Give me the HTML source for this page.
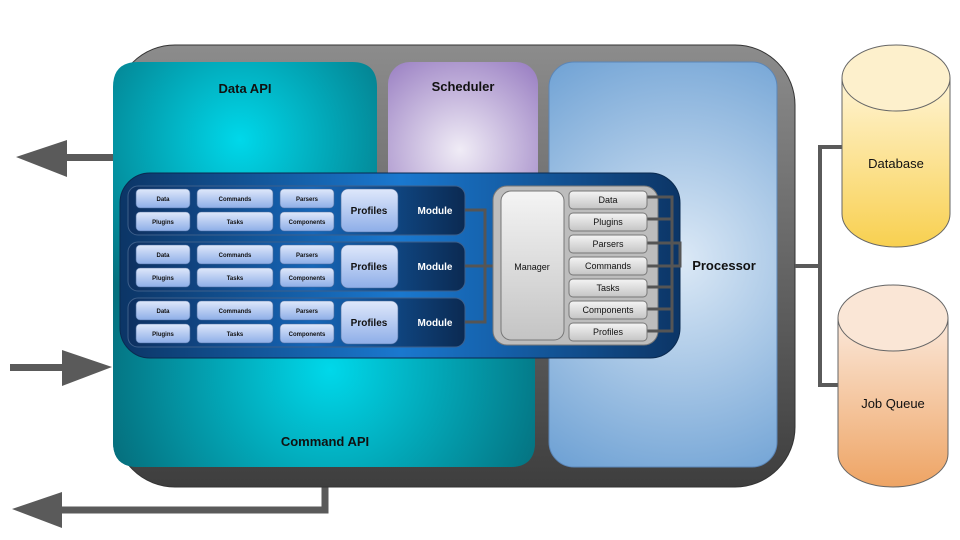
<!DOCTYPE html>
<html><head><meta charset="utf-8"><style>
html,body{margin:0;padding:0;background:#fff;width:960px;height:540px;overflow:hidden}
text{font-family:"Liberation Sans",Arial,sans-serif}
</style></head><body>
<svg width="960" height="540" viewBox="0 0 960 540" xmlns="http://www.w3.org/2000/svg">
<defs>
<linearGradient id="gOuter" x1="0" y1="0" x2="0" y2="1"><stop offset="0" stop-color="#8c8c8c"/><stop offset="1" stop-color="#3e3e3e"/></linearGradient>
<radialGradient id="gTealTop" cx="240" cy="140" r="190" gradientUnits="userSpaceOnUse"><stop offset="0" stop-color="#00d8ea"/><stop offset="1" stop-color="#05707e"/></radialGradient>
<radialGradient id="gTealBot" cx="330" cy="370" r="230" gradientUnits="userSpaceOnUse"><stop offset="0" stop-color="#00d8ea"/><stop offset="1" stop-color="#05707e"/></radialGradient>
<radialGradient id="gPurple" cx="460" cy="150" r="110" gradientUnits="userSpaceOnUse"><stop offset="0" stop-color="#f0ecf6"/><stop offset="1" stop-color="#9c82c4"/></radialGradient>
<radialGradient id="gProc" cx="680" cy="260" r="240" gradientUnits="userSpaceOnUse"><stop offset="0" stop-color="#dce9f6"/><stop offset="1" stop-color="#6ea1d4"/></radialGradient>
<linearGradient id="gMod" x1="0" y1="0" x2="1" y2="0"><stop offset="0" stop-color="#0c3566"/><stop offset="0.5" stop-color="#1a78cf"/><stop offset="1" stop-color="#0c3566"/></linearGradient>
<linearGradient id="gRow" x1="0" y1="0" x2="1" y2="0"><stop offset="0" stop-color="#0d3060"/><stop offset="0.55" stop-color="#1566b8"/><stop offset="1" stop-color="#0b2a52"/></linearGradient>
<linearGradient id="gBox" x1="0" y1="0" x2="0" y2="1"><stop offset="0" stop-color="#dfe8fb"/><stop offset="1" stop-color="#8eaee8"/></linearGradient>
<linearGradient id="gGray" x1="0" y1="0" x2="0" y2="1"><stop offset="0" stop-color="#f4f4f4"/><stop offset="1" stop-color="#c4c4c4"/></linearGradient>
<linearGradient id="gDb" x1="0" y1="0" x2="0" y2="1"><stop offset="0" stop-color="#fff4d4"/><stop offset="1" stop-color="#f8d050"/></linearGradient>
<linearGradient id="gJq" x1="0" y1="0" x2="0" y2="1"><stop offset="0" stop-color="#fbe8da"/><stop offset="1" stop-color="#eea464"/></linearGradient>
</defs>

<!-- arrows -->
<g fill="#5a5a5a" stroke="none">
<rect x="60" y="154" width="56" height="7"/><polygon points="16,157 67,140 67,177"/>
<rect x="10" y="364" width="56" height="7"/><polygon points="112,367 62,350 62,386"/>
<polygon points="12,509 62,492 62,528"/>
</g>
<path d="M325 460 L325 510 L60 510" stroke="#5a5a5a" stroke-width="7" fill="none"/>

<!-- outer -->
<rect x="115" y="45" width="680" height="442" rx="60" fill="url(#gOuter)" stroke="#333"/>

<!-- teal -->
<path d="M138 62 H352 Q377 62 377 87 V300 H535 V442 Q535 467 510 467 H138 Q113 467 113 442 V87 Q113 62 138 62 Z" fill="url(#gTealTop)"/>
<path d="M113 300 H535 V442 Q535 467 510 467 H138 Q113 467 113 442 Z" fill="url(#gTealBot)"/>
<text x="245" y="93" font-size="13" font-weight="bold" text-anchor="middle" fill="#111">Data API</text>
<text x="325" y="446" font-size="13" font-weight="bold" text-anchor="middle" fill="#111">Command API</text>

<!-- scheduler -->
<rect x="388" y="62" width="150" height="180" rx="22" fill="url(#gPurple)"/>
<text x="463" y="91" font-size="13" font-weight="bold" text-anchor="middle" fill="#111">Scheduler</text>

<!-- processor -->
<rect x="549" y="62" width="228" height="405" rx="25" fill="url(#gProc)" stroke="#5b86b8"/>
<text x="724" y="270" font-size="13" font-weight="bold" text-anchor="middle" fill="#111">Processor</text>

<!-- right connectors -->
<path d="M795 266 H820 M820 147 V385 M818 147 H842 M818 385 H840" stroke="#5a5a5a" stroke-width="4" fill="none"/>

<!-- cylinders -->
<path d="M842 78 V214 A54 33 0 0 0 950 214 V78 Z" fill="url(#gDb)" stroke="#666"/>
<ellipse cx="896" cy="78" rx="54" ry="33" fill="#fdf0cc" stroke="#666"/>
<text x="896" y="168" font-size="13" text-anchor="middle" fill="#111">Database</text>
<path d="M838 318 V454 A55 33 0 0 0 948 454 V318 Z" fill="url(#gJq)" stroke="#666"/>
<ellipse cx="893" cy="318" rx="55" ry="33" fill="#fae6d6" stroke="#666"/>
<text x="893" y="408" font-size="13" text-anchor="middle" fill="#111">Job Queue</text>

<!-- module container -->
<rect x="120" y="173" width="560" height="185" rx="30" fill="url(#gMod)" stroke="#0a2a50"/>

<g font-size="6" font-weight="bold" fill="#111" text-anchor="middle">
<g id="row">
<rect x="128" y="186" width="337" height="49" rx="10" fill="url(#gRow)" stroke="#3d5f8a"/>
<rect x="136" y="189" width="54" height="19" rx="4" fill="url(#gBox)" stroke="#4a6a9a" stroke-width="0.6"/>
<rect x="136" y="212" width="54" height="19" rx="4" fill="url(#gBox)" stroke="#4a6a9a" stroke-width="0.6"/>
<rect x="197" y="189" width="76" height="19" rx="4" fill="url(#gBox)" stroke="#4a6a9a" stroke-width="0.6"/>
<rect x="197" y="212" width="76" height="19" rx="4" fill="url(#gBox)" stroke="#4a6a9a" stroke-width="0.6"/>
<rect x="280" y="189" width="54" height="19" rx="4" fill="url(#gBox)" stroke="#4a6a9a" stroke-width="0.6"/>
<rect x="280" y="212" width="54" height="19" rx="4" fill="url(#gBox)" stroke="#4a6a9a" stroke-width="0.6"/>
<rect x="341" y="189" width="57" height="43" rx="7" fill="url(#gBox)" stroke="#4a6a9a" stroke-width="0.6"/>
<text x="163" y="201">Data</text><text x="163" y="224">Plugins</text>
<text x="235" y="201">Commands</text><text x="235" y="224">Tasks</text>
<text x="307" y="201">Parsers</text><text x="307" y="224">Components</text>
<text x="369" y="214" font-size="10">Profiles</text>
<text x="435" y="214" font-size="10" fill="#fff">Module</text>
</g>
<use href="#row" y="56"/>
<use href="#row" y="112"/>
</g>

<!-- module connectors -->
<path d="M465 210 H485 V322 H465 M465 266 H501" stroke="#555" stroke-width="3" fill="none"/>

<!-- manager -->
<rect x="493" y="186" width="165" height="159" rx="14" fill="#bdbdbd" stroke="#777"/>
<rect x="501" y="191" width="63" height="149" rx="10" fill="url(#gGray)" stroke="#777"/>
<text x="532" y="270" font-size="9" text-anchor="middle" fill="#111">Manager</text>
<path d="M647 197 H672 V331 H647 M647 219 H672 M647 287 H672 M647 309 H672 M647 243 H680 V266 H647" stroke="#555" stroke-width="3" fill="none"/>
<g font-size="9" text-anchor="middle" fill="#111">
<rect x="569" y="191" width="78" height="18" rx="4" fill="url(#gGray)" stroke="#777"/><text x="608" y="203">Data</text>
<rect x="569" y="213" width="78" height="18" rx="4" fill="url(#gGray)" stroke="#777"/><text x="608" y="225">Plugins</text>
<rect x="569" y="235" width="78" height="18" rx="4" fill="url(#gGray)" stroke="#777"/><text x="608" y="247">Parsers</text>
<rect x="569" y="257" width="78" height="18" rx="4" fill="url(#gGray)" stroke="#777"/><text x="608" y="269">Commands</text>
<rect x="569" y="279" width="78" height="18" rx="4" fill="url(#gGray)" stroke="#777"/><text x="608" y="291">Tasks</text>
<rect x="569" y="301" width="78" height="18" rx="4" fill="url(#gGray)" stroke="#777"/><text x="608" y="313">Components</text>
<rect x="569" y="323" width="78" height="18" rx="4" fill="url(#gGray)" stroke="#777"/><text x="608" y="335">Profiles</text>
</g>
</svg>
</body></html>
